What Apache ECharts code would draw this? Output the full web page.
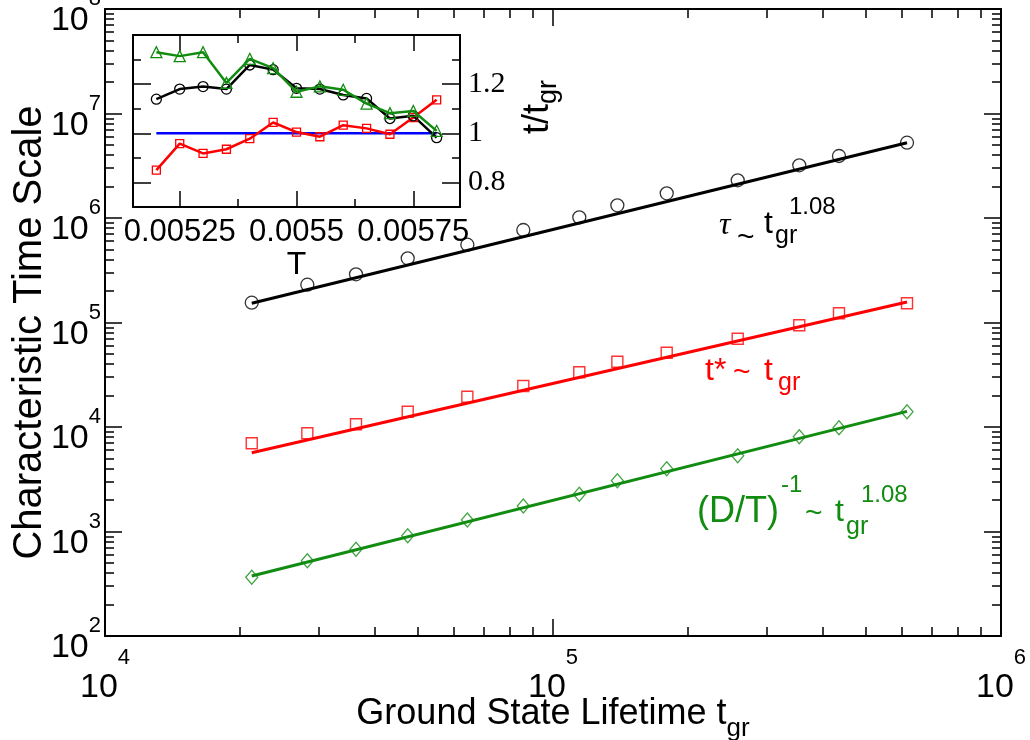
<!DOCTYPE html>
<html>
<head>
<meta charset="utf-8">
<script src="https://cdn.jsdelivr.net/npm/echarts@6/dist/echarts.min.js"></script>
<style>
  html, body { margin: 0; padding: 0; background: #fff; }
  #chart { width: 1030px; height: 740px; }
</style>
</head>
<body>
<div id="chart"></div>
<script>
// ---- Main panel: characteristic time scales vs ground state lifetime ----
const tgr   = [21260, 28290, 36330, 47390, 64390, 85850, 114470, 139200, 179400, 258400, 354600, 434900, 616900];
const tau   = [154700, 229900, 289200, 411600, 555300, 767800, 1015000, 1323000, 1723000, 2295000, 3194000, 3922000, 5256000];
const tStar = [6982, 8704, 10610, 14010, 19500, 24690, 33380, 42160, 51410, 69980, 94020, 122500, 152700];
const invDT = [364.5, 525.6, 675.3, 911.8, 1288, 1754, 2270, 3062, 3990, 5314, 8076, 9846, 14010];

// power-law fits, end points of each straight line in log-log
const tauFit   = [[21260, 152700], [616900, 5256000]];
const tStarFit = [[21260, 5676],   [616900, 157000]];
const invDTFit = [[21260, 375],    [616900, 14100]];

// ---- Inset: ratios t/t_gr vs temperature ----
const temps      = [0.0052, 0.00525, 0.0053, 0.00535, 0.0054, 0.00545, 0.0055, 0.00555, 0.0056, 0.00565, 0.0057, 0.00575, 0.0058];
const ratioTau   = [1.139, 1.180, 1.190, 1.180, 1.278, 1.259, 1.183, 1.180, 1.156, 1.142, 1.060, 1.071, 0.982];
const ratioDT    = [1.330, 1.314, 1.330, 1.205, 1.303, 1.265, 1.169, 1.191, 1.177, 1.121, 1.082, 1.091, 1.010];
const ratioTStar = [0.850, 0.958, 0.918, 0.935, 0.978, 1.044, 1.005, 0.986, 1.033, 1.020, 0.996, 1.064, 1.136];
const unitLine   = [[0.0052, 1], [0.0058, 1]];

// ---- Tick values ----
const xMajor = [1e4, 1e5, 1e6];
const yMajor = [1e2, 1e3, 1e4, 1e5, 1e6, 1e7, 1e8];
const xMinor = [], yMinor = [];
for (let d = 1e4; d < 1e6; d *= 10) for (let k = 2; k <= 9; k++) xMinor.push(k * d);
for (let d = 1e2; d < 1e8; d *= 10) for (let k = 2; k <= 9; k++) yMinor.push(k * d);
const insetXMajor = [0.00525, 0.0055, 0.00575];
const insetXMinor = [0.005375, 0.005625];
const insetYMajor = [0.8, 1, 1.2];
const insetYMinor = [0.9, 1.1, 1.3];

const SANS  = '"Liberation Sans", Arial, Helvetica, sans-serif';
const SERIF = '"Liberation Serif", "Times New Roman", serif';
const BLACK = '#000000', RED = '#ff0000', GREEN = '#118c11', BLUE = '#0000ff';

const zip = (xs, ys) => xs.map((x, i) => [x, ys[i]]);
const expOf = v => Math.round(Math.log10(v));
// "10" with a raised exponent
const powX = v => '{b|10}{s|' + expOf(v) + '}';
const powY = v => '{h|\u200b}{b|10}{s|' + expOf(v) + '}';
const powRichX = {
  b: { fontSize: 34, fontFamily: SANS, color: BLACK, lineHeight: 82 },
  s: { fontSize: 22, fontFamily: SANS, color: BLACK, lineHeight: 22, verticalAlign: 'top' }
};
const powRichY = {
  h: { fontSize: 10, fontFamily: SANS, lineHeight: 58 },
  b: { fontSize: 34, fontFamily: SANS, color: BLACK, lineHeight: 34, verticalAlign: 'bottom' },
  s: { fontSize: 22, fontFamily: SANS, color: BLACK, lineHeight: 22, verticalAlign: 'top', padding: [8, 0, 0, 0] }
};
const frameLine = { show: true, lineStyle: { color: BLACK, width: 2 } };
const noLine = { show: false };
const tick = (len, values) => ({ show: true, inside: true, length: len, customValues: values, lineStyle: { color: BLACK, width: 1.5 } });
const noLabel = { show: false };

const mainX = { type: 'log', logBase: 10, min: 1e4, max: 1e6, gridIndex: 0, splitLine: { show: false } };
const mainY = { type: 'log', logBase: 10, min: 1e2, max: 1e8, gridIndex: 0, splitLine: { show: false } };
const insX  = { type: 'value', min: 0.00515, max: 0.00585, gridIndex: 1, splitLine: { show: false } };
const insY  = { type: 'value', min: 0.7, max: 1.4, gridIndex: 1, splitLine: { show: false } };

const hollow = (color, w) => ({ color: 'rgba(0,0,0,0)', borderColor: color, borderWidth: w });
const txt = (x, y, text, font, fill) => ({ type: 'text', x: x, y: y,
  style: { text: text, font: font, fill: fill, textVerticalAlign: 'middle', verticalAlign: 'middle' } });

const option = {
  animation: false,
  backgroundColor: '#ffffff',
  grid: [
    { left: 105, top: 9, width: 896, height: 627, containLabel: false, outerBoundsMode: 'none' },
    { left: 133, top: 35, width: 327, height: 172, containLabel: false, outerBoundsMode: 'none',
      show: true, backgroundColor: '#ffffff', borderWidth: 0 }
  ],
  xAxis: [
    Object.assign({}, mainX, {
      position: 'bottom', axisLine: frameLine, axisTick: tick(17, xMajor),
      axisLabel: { customValues: xMajor, formatter: powX, rich: powRichX, margin: 11 },
      name: 'Ground State Lifetime t{sub|gr}', nameLocation: 'middle', nameGap: 50, nameMoveOverlap: false,
      nameTextStyle: { fontSize: 36, fontFamily: SANS, color: BLACK, lineHeight: 56,
        rich: { sub: { fontSize: 26, fontFamily: SANS, color: BLACK, lineHeight: 26, verticalAlign: 'bottom' } } }
    }),
    Object.assign({}, mainX, { position: 'bottom', axisLine: noLine, axisTick: tick(9, xMinor), axisLabel: noLabel }),
    Object.assign({}, mainX, { position: 'top', axisLine: frameLine, axisTick: tick(17, xMajor), axisLabel: noLabel }),
    Object.assign({}, mainX, { position: 'top', axisLine: noLine, axisTick: tick(9, xMinor), axisLabel: noLabel }),

    Object.assign({}, insX, {
      position: 'bottom', axisLine: frameLine, axisTick: tick(16, insetXMajor),
      axisLabel: { customValues: insetXMajor, formatter: v => String(v), fontSize: 31, fontFamily: SANS, color: BLACK, margin: 10 },
      name: 'T', nameLocation: 'middle', nameGap: 42,
      nameTextStyle: { fontSize: 32, fontFamily: SANS, color: BLACK }
    }),
    Object.assign({}, insX, { position: 'bottom', axisLine: noLine, axisTick: tick(8, insetXMinor), axisLabel: noLabel }),
    Object.assign({}, insX, { position: 'top', axisLine: frameLine, axisTick: tick(16, insetXMajor), axisLabel: noLabel }),
    Object.assign({}, insX, { position: 'top', axisLine: noLine, axisTick: tick(8, insetXMinor), axisLabel: noLabel })
  ],
  yAxis: [
    Object.assign({}, mainY, {
      position: 'left', axisLine: frameLine, axisTick: tick(17, yMajor),
      axisLabel: { customValues: yMajor, formatter: powY, rich: powRichY, margin: 4 },
      name: 'Characteristic Time Scale', nameLocation: 'middle', nameGap: 55, nameRotate: 90, nameMoveOverlap: false,
      nameTextStyle: { fontSize: 40, fontFamily: SANS, color: BLACK, padding: [0, 20, 0, 0] }
    }),
    Object.assign({}, mainY, { position: 'left', axisLine: noLine, axisTick: tick(9, yMinor), axisLabel: noLabel }),
    Object.assign({}, mainY, { position: 'right', axisLine: frameLine, axisTick: tick(17, yMajor), axisLabel: noLabel }),
    Object.assign({}, mainY, { position: 'right', axisLine: noLine, axisTick: tick(9, yMinor), axisLabel: noLabel }),

    Object.assign({}, insY, {
      position: 'right', axisLine: frameLine, axisTick: tick(18, insetYMajor),
      axisLabel: { customValues: insetYMajor, formatter: v => String(v), fontSize: 30, fontFamily: SERIF, color: BLACK, margin: 8 },
      name: 't/t{sub|gr}', nameLocation: 'middle', nameGap: 54, nameRotate: 90,
      nameTextStyle: { fontSize: 36, fontFamily: SANS, color: BLACK, lineHeight: 48, padding: [0, 0, 0, 28],
        rich: { sub: { fontSize: 27, fontFamily: SANS, color: BLACK, lineHeight: 27, verticalAlign: 'bottom' } } }
    }),
    Object.assign({}, insY, { position: 'right', axisLine: noLine, axisTick: tick(8, insetYMinor), axisLabel: noLabel }),
    Object.assign({}, insY, { position: 'left', axisLine: frameLine, axisTick: tick(18, insetYMajor), axisLabel: noLabel }),
    Object.assign({}, insY, { position: 'left', axisLine: noLine, axisTick: tick(8, insetYMinor), axisLabel: noLabel })
  ],
  series: [
    // fitted lines
    { type: 'line', xAxisIndex: 0, yAxisIndex: 0, data: tauFit,   symbol: 'none', lineStyle: { color: BLACK, width: 3 }, z: 2 },
    { type: 'line', xAxisIndex: 0, yAxisIndex: 0, data: tStarFit, symbol: 'none', lineStyle: { color: RED,   width: 3 }, z: 2 },
    { type: 'line', xAxisIndex: 0, yAxisIndex: 0, data: invDTFit, symbol: 'none', lineStyle: { color: GREEN, width: 3 }, z: 2 },
    // measured points
    { type: 'scatter', xAxisIndex: 0, yAxisIndex: 0, data: zip(tgr, tau),   symbol: 'circle',  symbolSize: 13, itemStyle: hollow(BLACK, 1.3), z: 3 },
    { type: 'scatter', xAxisIndex: 0, yAxisIndex: 0, data: zip(tgr, tStar), symbol: 'rect',    symbolSize: 11, itemStyle: hollow(RED, 1.4),   z: 3 },
    { type: 'scatter', xAxisIndex: 0, yAxisIndex: 0, data: zip(tgr, invDT), symbol: 'diamond', symbolSize: [12, 14], itemStyle: hollow(GREEN, 1.3), z: 3 },

    // inset
    { type: 'line', xAxisIndex: 4, yAxisIndex: 4, data: unitLine, symbol: 'none', lineStyle: { color: BLUE, width: 2.5 }, z: 4 },
    { type: 'line', xAxisIndex: 4, yAxisIndex: 4, data: zip(temps, ratioTStar), symbol: 'rect', symbolSize: 8,
      itemStyle: hollow(RED, 1.3), lineStyle: { color: RED, width: 2.5 }, z: 5 },
    { type: 'line', xAxisIndex: 4, yAxisIndex: 4, data: zip(temps, ratioTau), symbol: 'circle', symbolSize: 10,
      itemStyle: hollow(BLACK, 1.3), lineStyle: { color: BLACK, width: 2.5 }, z: 5 },
    { type: 'line', xAxisIndex: 4, yAxisIndex: 4, data: zip(temps, ratioDT), symbol: 'triangle', symbolSize: 11,
      itemStyle: hollow(GREEN, 1.3), lineStyle: { color: GREEN, width: 2.5 }, z: 6 }
  ],
  graphic: [
    // τ ~ t_gr^1.08
    txt(719, 226, 'τ', 'italic 32px ' + SERIF, BLACK),
    txt(737, 238, '~', '30px ' + SANS, BLACK),
    txt(764, 224, 't', '32px ' + SANS, BLACK),
    txt(775, 236, 'gr', '25px ' + SANS, BLACK),
    txt(789, 207, '1.08', '24px ' + SANS, BLACK),
    // t* ~ t_gr
    txt(705, 371, 't*', '32px ' + SANS, RED),
    txt(733, 373, '~', '30px ' + SANS, RED),
    txt(764, 371, 't', '32px ' + SANS, RED),
    txt(778, 383, 'gr', '25px ' + SANS, RED),
    // (D/T)^-1 ~ t_gr^1.08
    txt(697, 512, '(D/T)', '36px ' + SANS, GREEN),
    txt(781, 485, '-1', '24px ' + SANS, GREEN),
    txt(805, 514, '~', '30px ' + SANS, GREEN),
    txt(835, 512, 't', '32px ' + SANS, GREEN),
    txt(846, 527, 'gr', '25px ' + SANS, GREEN),
    txt(861, 495, '1.08', '24px ' + SANS, GREEN)
  ]
};

const chart = echarts.init(document.getElementById('chart'), null, { renderer: 'canvas' });
chart.setOption(option);
</script>
</body>
</html>
